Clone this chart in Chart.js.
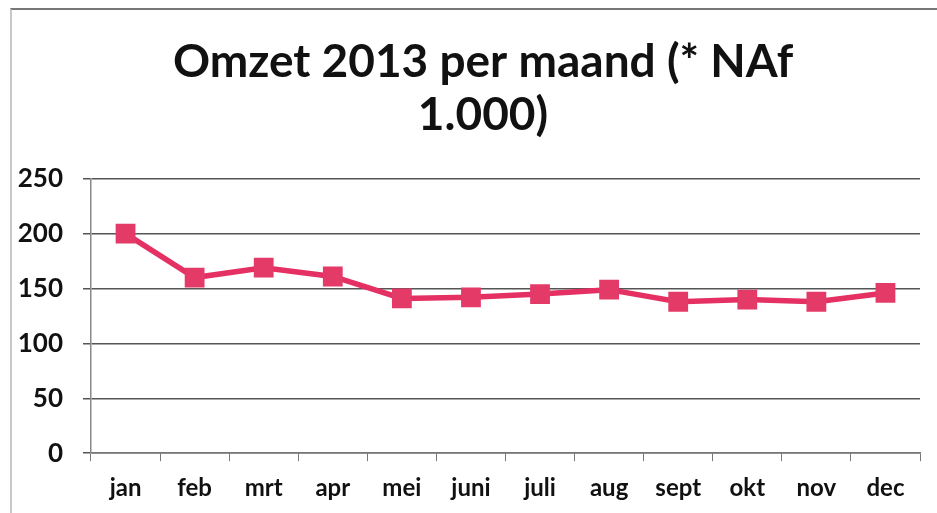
<!DOCTYPE html>
<html>
<head>
<meta charset="utf-8">
<script src="https://cdn.jsdelivr.net/npm/chart.js@4"></script>
<style>
html,body{margin:0;padding:0;background:#fff;}
#wrap{position:relative;width:937px;height:513px;}
#wrap:before{content:"";position:absolute;left:10px;top:8px;right:0;bottom:0;border-left:2px solid #c8c8c8;border-top:2px solid #777;pointer-events:none;}
</style>
</head>
<body>
<div id="wrap"><canvas id="c" width="937" height="513"></canvas></div>
<script>
const categories = ['jan','feb','mrt','apr','mei','juni','juli','aug','sept','okt','nov','dec'];
const omzet = [200,160,169,161,141,142,145,149,138,140,138,146];
const titleLines = ['Omzet 2013 per maand (* NAf','1.000)'];
const yTicks = [0,50,100,150,200,250];

const titleShift = {
  id: 'titleShift',
  afterLayout(chart) {
    if (chart.titleBlock) { chart.titleBlock.left += 36; }
  }
};

new Chart(document.getElementById('c'), {
  type: 'line',
  data: {
    labels: categories,
    datasets: [{
      data: omzet,
      borderColor: 'rgb(228,48,98)',
      backgroundColor: 'rgb(228,58,104)',
      borderWidth: 5.5,
      pointStyle: 'rect',
      pointRadius: 14,
      pointBorderWidth: 0,
      tension: 0
    }]
  },
  plugins: [titleShift],
  options: {
    responsive: false,
    animation: false,
    devicePixelRatio: 1,
    layout: { padding: { left: 10, right: 17, top: 36, bottom: -3 } },
    plugins: {
      legend: { display: false },
      tooltip: { enabled: false },
      title: {
        display: true,
        text: titleLines,
        color: '#111',
        font: { family: 'Lato', size: 46, weight: 'bold', lineHeight: 1.15 },
        padding: { top: 0, bottom: 37 }
      }
    },
    scales: {
      x: {
        offset: true,
        grid: { display: true, drawOnChartArea: false, offset: true, color: '#777', tickLength: 8 },
        border: { display: true, color: '#777', width: 1.5 },
        ticks: { color: '#111', font: { family: 'Lato', size: 24, weight: 'bold' }, padding: 13 }
      },
      y: {
        min: 0, max: 250,
        afterFit: (s) => { s.width = 81; },
        afterBuildTicks: (s) => { s.ticks = yTicks.map(v => ({ value: v })); },
        grid: { color: '#555', lineWidth: 1.5, tickLength: 8 },
        border: { display: true, color: '#888', width: 1.5 },
        ticks: { color: '#111', font: { family: 'Lato', size: 26, weight: 'bold' }, padding: 20 }
      }
    }
  }
});
</script>
</body>
</html>
